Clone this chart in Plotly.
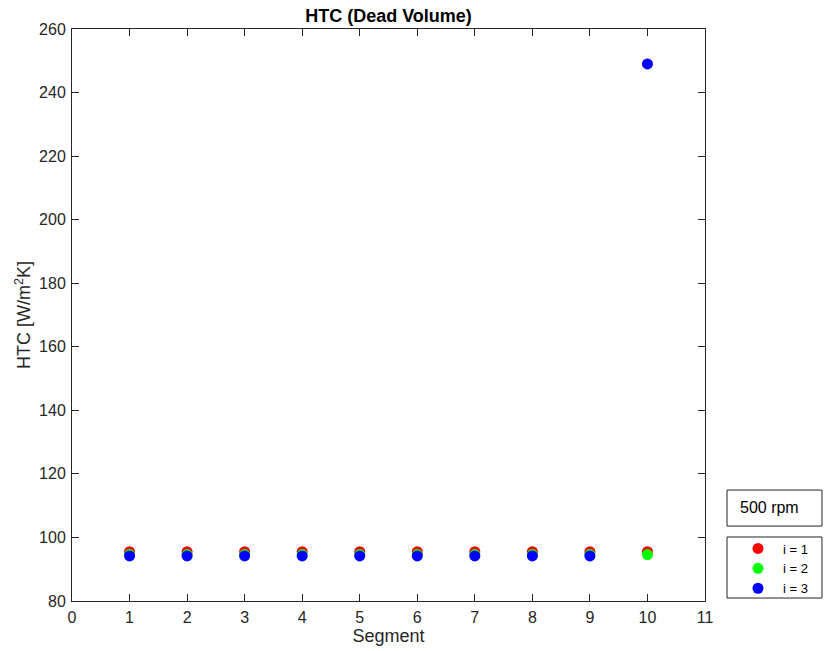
import plotly.graph_objects as go

segments = [1, 2, 3, 4, 5, 6, 7, 8, 9, 10]
htc_i1 = [95.5, 95.5, 95.5, 95.5, 95.5, 95.5, 95.5, 95.5, 95.5, 95.5]
htc_i2 = [94.6, 94.6, 94.6, 94.6, 94.6, 94.6, 94.6, 94.6, 94.6, 94.6]
htc_i3 = [94.2, 94.2, 94.2, 94.2, 94.2, 94.2, 94.2, 94.2, 94.2, 249.0]
series_names = ["i = 1", "i = 2", "i = 3"]
series_colors = ["#ff0000", "#00ff00", "#0000ff"]
x_ticks = list(range(0, 12))
y_ticks = list(range(80, 261, 20))

fig = go.Figure()
for name, vals, col in zip(series_names, [htc_i1, htc_i2, htc_i3], series_colors):
    fig.add_trace(go.Scatter(
        x=segments, y=vals, mode="markers", name=name,
        marker=dict(color=col, size=11, line=dict(width=0)),
    ))

axis_common = dict(
    showgrid=False, zeroline=False, showline=True, linecolor="#262626",
    linewidth=1, mirror="ticks", ticks="inside", ticklen=7,
    tickcolor="#262626", tickfont=dict(size=16, color="#262626"),
    ticklabelstandoff=2, automargin=False,
)

fig.update_layout(
    width=825, height=651,
    margin=dict(l=72, r=120, t=29, b=50, autoexpand=False),
    paper_bgcolor="white", plot_bgcolor="white",
    font=dict(family="Liberation Sans, Arial, sans-serif", color="#262626"),
    title=dict(text="<b>HTC (Dead Volume)</b>", x=0.5, xanchor="center",
               xref="paper",
               y=1 - 9 / 651, yanchor="top", font=dict(size=18, color="black")),
    xaxis=dict(range=[0, 11], tickvals=x_ticks,
               title=dict(text="Segment", font=dict(size=18), standoff=3), **axis_common),
    yaxis=dict(range=[80, 260], tickvals=y_ticks,
               title=dict(text="HTC [W/m<sup>2</sup>K]", font=dict(size=18), standoff=3), **axis_common),
    legend=dict(xref="container", yref="container",
                x=733 / 825, xanchor="left", y=1 - 533.5 / 651, yanchor="top",
                borderwidth=0, bgcolor="rgba(0,0,0,0)",
                font=dict(size=13, color="black"), itemwidth=40,
                tracegroupgap=0),
    showlegend=True,
)

# legend border box
fig.add_shape(type="rect", xref="paper", yref="paper",
              x0=1.0348, x1=1.1848, y0=0.0052, y1=0.1119,
              line=dict(color="#262626", width=1), fillcolor="rgba(0,0,0,0)")
# "500 rpm" text box
fig.add_shape(type="rect", xref="paper", yref="paper",
              x0=1.0348, x1=1.1848, y0=0.131, y1=0.194,
              line=dict(color="#262626", width=1), fillcolor="white")
fig.add_annotation(
    xref="paper", yref="paper", x=1.052, xanchor="left", y=0.1626, yanchor="middle",
    text="500 rpm", showarrow=False, align="left",
    font=dict(size=16, color="black"),
)

fig.write_html("out.html", config={"displayModeBar": False},
               post_script="document.body.style.margin='0';")
